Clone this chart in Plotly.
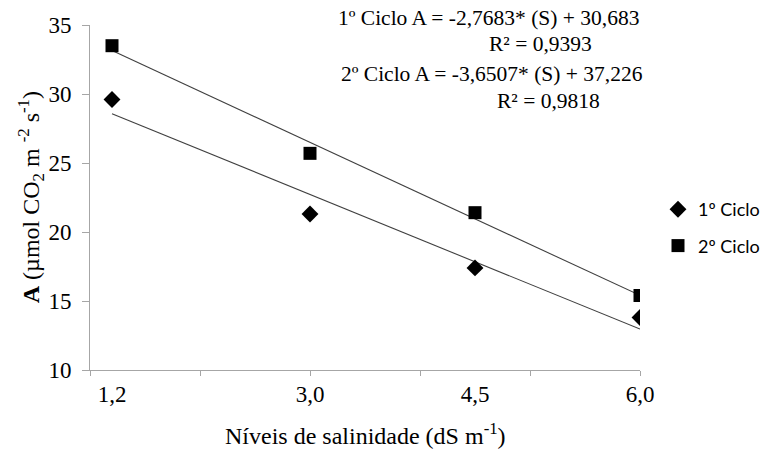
import numpy as np
import plotly.graph_objects as go

# Data
salinity = [1.2, 3.0, 4.5, 6.0]
ciclo1 = [29.6, 21.3, 17.4, 13.8]
ciclo2 = [33.5, 25.7, 21.4, 15.4]
x_ticktext = ["1,2", "3,0", "4,5", "6,0"]
eq_lines = [
    "1º Ciclo A = -2,7683* (S) + 30,683",
    "R² = 0,9393",
    "2º Ciclo A = -3,6507* (S) + 37,226",
    "R² = 0,9818",
]

W, H = 763, 450
L, R, T, B = 90, 123, 24.5, 80
serif = "Liberation Serif"

fig = go.Figure()

xs = np.array(salinity)
for ys in (ciclo1, ciclo2):
    m, b = np.polyfit(xs, np.array(ys), 1)
    fig.add_trace(go.Scatter(x=[xs[0], xs[-1]], y=[m * xs[0] + b, m * xs[-1] + b],
                             mode="lines", line=dict(color="#404040", width=1.1),
                             showlegend=False, hoverinfo="skip"))

fig.add_trace(go.Scatter(x=salinity, y=ciclo1, mode="markers", name="1º Ciclo",
                         legendgroup="a",
                         marker=dict(symbol="diamond", size=13, color="black")))
fig.add_trace(go.Scatter(x=salinity, y=ciclo2, mode="markers", name="2º Ciclo",
                         legendgroup="b",
                         marker=dict(symbol="square", size=13, color="black")))

pw = W - L - R
ph = H - T - B
def px(x):
    return (x - L) / pw
def py(y):
    return (H - B - y) / ph

eq_pos = [(488, 17), (540, 44), (492, 74), (548, 101)]
for txt, (ax, ay) in zip(eq_lines, eq_pos):
    fig.add_annotation(text=txt, x=px(ax), y=py(ay), xref="paper", yref="paper",
                       xanchor="center", yanchor="middle", showarrow=False,
                       font=dict(family=serif, size=21.5, color="black"))

# axis titles as annotations for exact placement
fig.add_annotation(text="Níveis de salinidade (dS m<sup>-1</sup>)", x=px(365), y=py(434),
                   xref="paper", yref="paper", xanchor="center", yanchor="middle",
                   showarrow=False, font=dict(family=serif, size=24, color="black"))
fig.add_annotation(text="<b>A</b> (µmol CO<sub>2</sub> m <sup>-2</sup> s<sup>-1</sup>)",
                   x=px(31), y=py(197), textangle=-90,
                   xref="paper", yref="paper", xanchor="center", yanchor="middle",
                   showarrow=False, font=dict(family=serif, size=24, color="black"))

fig.update_layout(
    width=W, height=H,
    margin=dict(l=L, r=R, t=T, b=B, pad=0),
    paper_bgcolor="white", plot_bgcolor="white",
    showlegend=True,
    legend=dict(xref="container", yref="container", x=658 / W, y=1 - 191 / H,
                xanchor="left", yanchor="top",
                font=dict(family="Lato", size=18, color="black"),
                tracegroupgap=10, bgcolor="rgba(0,0,0,0)"),
    xaxis=dict(range=[1, 6], tickmode="array", tickvals=salinity, ticktext=x_ticktext,
               ticks="", showgrid=False, zeroline=False, automargin=False,
               showline=True, linecolor="#a6a6a6", linewidth=1,
               tickfont=dict(family=serif, size=23, color="black"),
               ticklabelstandoff=3,
               minor=dict(tickmode="array", tickvals=[1, 2, 3, 4, 5, 6], ticks="outside",
                          ticklen=5, tickcolor="#a6a6a6", showgrid=False)),
    yaxis=dict(range=[10, 35], tickmode="array", tickvals=[10, 15, 20, 25, 30, 35],
               ticks="outside", ticklen=7, tickcolor="#a6a6a6",
               showgrid=False, zeroline=False, automargin=False,
               showline=True, linecolor="#a6a6a6", linewidth=1,
               tickfont=dict(family=serif, size=23, color="black"),
               ticklabelstandoff=6),
)

fig.write_html("out.html", config={"displayModeBar": False},
               post_script="document.body.style.margin='0';")
